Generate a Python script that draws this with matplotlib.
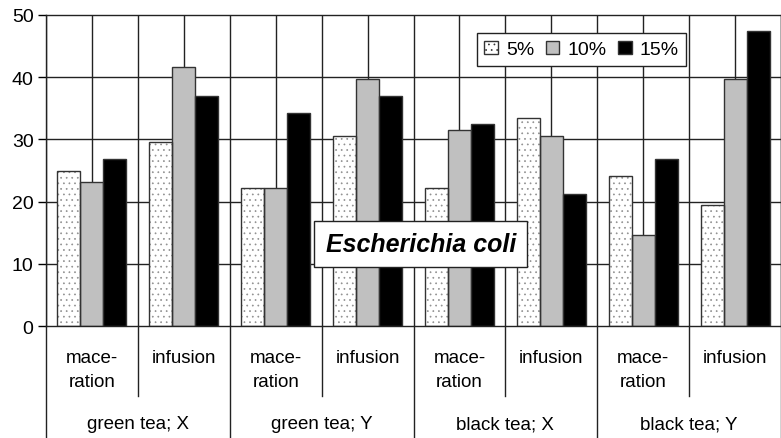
import numpy as np
import matplotlib
matplotlib.use("Agg")
import matplotlib.pyplot as plt
from matplotlib.patches import Patch
import matplotlib.transforms as mtransforms

plt.rcParams['font.family'] = ['Liberation Sans', 'DejaVu Sans']
plt.rcParams['hatch.linewidth'] = 0.5

methods = ["mace-\nration", "infusion"] * 4
teas = ["green tea; X", "green tea; Y", "black tea; X", "black tea; Y"]
series = ["5%", "10%", "15%"]
v5 = [24.9, 29.6, 22.2, 30.5, 22.2, 33.4, 24.1, 19.5]
v10 = [23.1, 41.6, 22.2, 39.7, 31.5, 30.5, 14.6, 39.7]
v15 = [26.8, 37.0, 34.3, 37.0, 32.4, 21.2, 26.9, 47.4]

fig = plt.figure(figsize=(7.81, 4.39), dpi=100)
ax = fig.add_axes([0.0589, 0.2551, 0.9411, 0.7085])

x = np.arange(len(methods))
w = 0.25

# grid lines: horizontal at 10s, vertical every half category
for yv in [10, 20, 30, 40]:
    ax.axhline(yv, color='#222222', lw=1.0, zorder=0)
for xv in np.arange(-0.5, 7.51, 0.5):
    ax.axvline(xv, color='#222222', lw=1.0, zorder=0)

edge = '#333333'
# 5%: dotted fill drawn first, outline on top
ax.bar(x - w, v5, w, color='white', edgecolor='#909090', hatch='...', lw=0, zorder=2)
ax.bar(x - w, v5, w, fill=False, edgecolor=edge, lw=1.0, zorder=3)
ax.bar(x, v10, w, color='#c0c0c0', edgecolor=edge, lw=1.0, zorder=2)
ax.bar(x + w, v15, w, color='black', edgecolor=edge, lw=1.0, zorder=2)

ax.set_xlim(-0.5, 7.5)
ax.set_ylim(0, 50)
ax.set_yticks(range(0, 51, 10))
ax.tick_params(axis='y', labelsize=14, length=6, width=1, direction='out', pad=3)
ax.set_xticks([])
for s in ax.spines.values():
    s.set_color('#222222')
    s.set_linewidth(1.0)

# category axis labels below
trans = mtransforms.blended_transform_factory(ax.transData, ax.transAxes)
for i, m in enumerate(methods):
    ax.text(x[i], -0.075, m, transform=trans, ha='center', va='top',
            fontsize=13.5, linespacing=1.5)
for xv in [0.5, 2.5, 4.5, 6.5]:
    ax.plot([xv, xv], [0, -0.225], transform=trans, color='#222222', lw=1.0, clip_on=False)
for xv in [-0.5, 1.5, 3.5, 5.5, 7.5]:
    ax.plot([xv, xv], [0, -0.37], transform=trans, color='#222222', lw=1.0, clip_on=False)
for g, t in enumerate(teas):
    ax.text(2 * g + 0.5, -0.315, t, transform=trans, ha='center', va='center', fontsize=13.5)

handles = [Patch(facecolor='white', edgecolor='#333333', hatch='...'),
           Patch(facecolor='#c0c0c0', edgecolor='#333333'),
           Patch(facecolor='black', edgecolor='#333333')]
leg = ax.legend(handles, series, ncol=3, loc='upper left', bbox_to_anchor=(0.586, 0.942),
                fontsize=14, fancybox=False, framealpha=1, edgecolor='#222222',
                handlelength=0.7, handleheight=0.7, handletextpad=0.4, columnspacing=0.6,
                borderpad=0.4, borderaxespad=0)
leg.get_frame().set_linewidth(1.0)
leg.set_zorder(5)

ax.text(0.510, 0.264, "Escherichia coli", transform=ax.transAxes, ha='center', va='center',
        fontsize=18, fontweight='bold', fontstyle='italic', zorder=6,
        bbox=dict(boxstyle='square,pad=0.45', facecolor='white', edgecolor='#222222', lw=1.0))

fig.savefig("out.png", dpi=100)
